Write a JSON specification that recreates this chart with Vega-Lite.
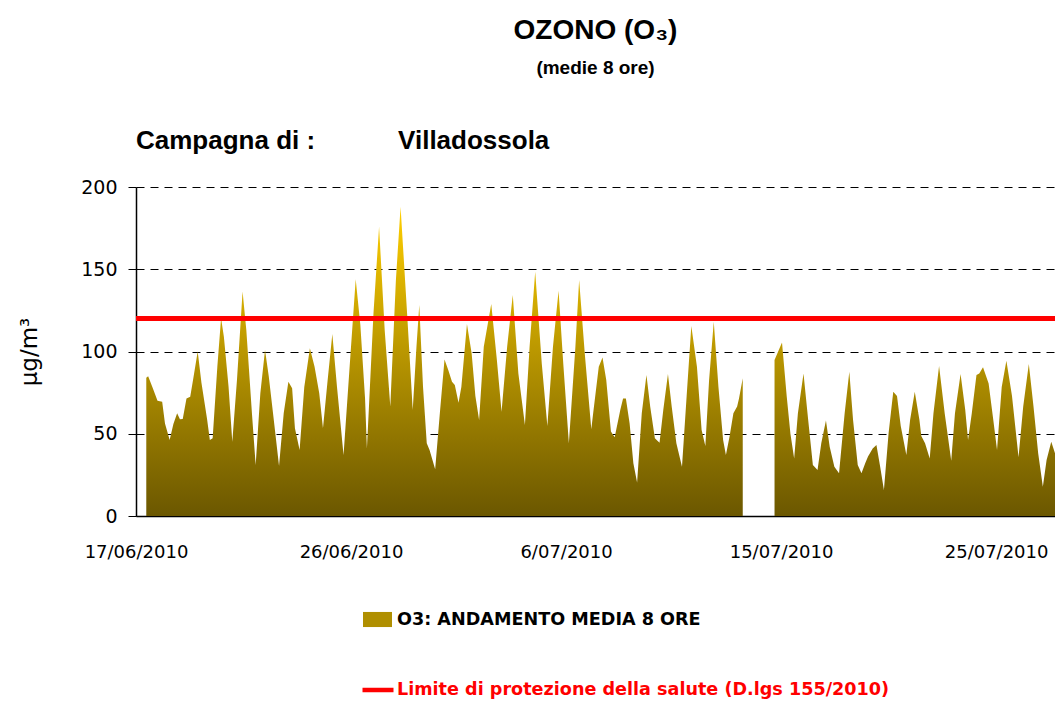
{
  "$schema": "https://vega.github.io/schema/vega-lite/v6.json",
  "width": 919,
  "height": 329,
  "autosize": {"type": "none"},
  "padding": {"left": 136, "top": 187, "right": 0, "bottom": 186},
  "background": "#ffffff",
  "view": {"stroke": null},
  "title": {
    "text": "OZONO (O₃)",
    "subtitle": "(medie 8 ore)",
    "anchor": "middle",
    "font": "Liberation Sans",
    "fontSize": 28,
    "fontWeight": "bold",
    "color": "#000000",
    "subtitleFont": "Liberation Sans",
    "subtitleFontSize": 19,
    "subtitleFontWeight": "bold",
    "subtitleColor": "#000000",
    "subtitlePadding": 14,
    "offset": 50
  },
  "datasets": {
    "ozono": [
      {"t": "2010-06-17T11:00", "v": 84},
      {"t": "2010-06-17T13:00", "v": 85},
      {"t": "2010-06-17T18:00", "v": 77.6},
      {"t": "2010-06-17T23:00", "v": 70},
      {"t": "2010-06-18T04:00", "v": 69.4},
      {"t": "2010-06-18T07:00", "v": 56.3},
      {"t": "2010-06-18T12:00", "v": 46.2},
      {"t": "2010-06-18T16:00", "v": 56},
      {"t": "2010-06-18T20:00", "v": 62.4},
      {"t": "2010-06-18T23:00", "v": 58.8},
      {"t": "2010-06-19T02:00", "v": 59},
      {"t": "2010-06-19T06:00", "v": 71.5},
      {"t": "2010-06-19T10:00", "v": 72.5},
      {"t": "2010-06-19T13:00", "v": 82.7},
      {"t": "2010-06-19T18:00", "v": 100},
      {"t": "2010-06-19T22:00", "v": 81},
      {"t": "2010-06-20T04:00", "v": 59},
      {"t": "2010-06-20T07:00", "v": 46.2},
      {"t": "2010-06-20T10:00", "v": 47.2},
      {"t": "2010-06-20T15:00", "v": 90.8},
      {"t": "2010-06-20T19:00", "v": 120.2},
      {"t": "2010-06-20T22:00", "v": 109},
      {"t": "2010-06-21T03:00", "v": 78.6},
      {"t": "2010-06-21T07:00", "v": 45.2},
      {"t": "2010-06-21T12:00", "v": 82.7},
      {"t": "2010-06-21T18:00", "v": 136.4},
      {"t": "2010-06-21T22:00", "v": 113},
      {"t": "2010-06-22T04:00", "v": 62.4},
      {"t": "2010-06-22T08:00", "v": 31},
      {"t": "2010-06-22T13:00", "v": 74.6},
      {"t": "2010-06-22T18:00", "v": 100.9},
      {"t": "2010-06-22T22:00", "v": 85},
      {"t": "2010-06-23T03:00", "v": 60.4},
      {"t": "2010-06-23T09:00", "v": 30.4},
      {"t": "2010-06-23T14:00", "v": 62.4},
      {"t": "2010-06-23T19:00", "v": 81.6},
      {"t": "2010-06-23T23:00", "v": 77.6},
      {"t": "2010-06-24T02:00", "v": 53.3},
      {"t": "2010-06-24T07:00", "v": 40.1},
      {"t": "2010-06-24T12:00", "v": 78.4},
      {"t": "2010-06-24T18:00", "v": 101.9},
      {"t": "2010-06-24T23:00", "v": 90.8},
      {"t": "2010-06-25T04:00", "v": 74.6},
      {"t": "2010-06-25T08:00", "v": 53.3},
      {"t": "2010-06-25T13:00", "v": 82.7},
      {"t": "2010-06-25T18:00", "v": 110.6},
      {"t": "2010-06-25T23:00", "v": 78.4},
      {"t": "2010-06-26T06:00", "v": 37.1},
      {"t": "2010-06-26T13:00", "v": 94.8},
      {"t": "2010-06-26T19:00", "v": 143.9},
      {"t": "2010-06-27T00:00", "v": 116},
      {"t": "2010-06-27T05:00", "v": 71.5},
      {"t": "2010-06-27T07:00", "v": 41.1},
      {"t": "2010-06-27T14:00", "v": 123},
      {"t": "2010-06-27T20:00", "v": 175.9},
      {"t": "2010-06-28T02:00", "v": 113},
      {"t": "2010-06-28T08:00", "v": 66.5},
      {"t": "2010-06-28T14:00", "v": 143.5},
      {"t": "2010-06-28T19:00", "v": 188},
      {"t": "2010-06-29T02:00", "v": 123},
      {"t": "2010-06-29T08:00", "v": 64.4},
      {"t": "2010-06-29T12:00", "v": 102.9},
      {"t": "2010-06-29T15:00", "v": 128.3},
      {"t": "2010-06-29T19:00", "v": 78.6},
      {"t": "2010-06-29T23:00", "v": 44.2},
      {"t": "2010-06-30T02:00", "v": 40.1},
      {"t": "2010-06-30T08:00", "v": 28.4},
      {"t": "2010-06-30T13:00", "v": 62.4},
      {"t": "2010-06-30T18:00", "v": 95.2},
      {"t": "2010-06-30T22:00", "v": 88.8},
      {"t": "2010-07-01T02:00", "v": 81.6},
      {"t": "2010-07-01T05:00", "v": 79.6},
      {"t": "2010-07-01T09:00", "v": 68.9},
      {"t": "2010-07-01T12:00", "v": 78.4},
      {"t": "2010-07-01T18:00", "v": 116.7},
      {"t": "2010-07-01T23:00", "v": 98.9},
      {"t": "2010-07-02T03:00", "v": 72.9},
      {"t": "2010-07-02T07:00", "v": 58.4},
      {"t": "2010-07-02T12:00", "v": 102.9},
      {"t": "2010-07-02T20:00", "v": 128.9},
      {"t": "2010-07-03T02:00", "v": 94.8},
      {"t": "2010-07-03T07:00", "v": 63.4},
      {"t": "2010-07-03T13:00", "v": 102.9},
      {"t": "2010-07-03T19:00", "v": 134.3},
      {"t": "2010-07-04T01:00", "v": 86.7},
      {"t": "2010-07-04T08:00", "v": 55.3},
      {"t": "2010-07-04T13:00", "v": 102.9},
      {"t": "2010-07-04T19:00", "v": 148.5},
      {"t": "2010-07-05T02:00", "v": 92.8},
      {"t": "2010-07-05T08:00", "v": 54.7},
      {"t": "2010-07-05T14:00", "v": 102.9},
      {"t": "2010-07-05T20:00", "v": 137},
      {"t": "2010-07-06T01:00", "v": 92.8},
      {"t": "2010-07-06T07:00", "v": 44.2},
      {"t": "2010-07-06T14:00", "v": 102.9},
      {"t": "2010-07-06T18:00", "v": 143.5},
      {"t": "2010-07-07T00:00", "v": 98.9},
      {"t": "2010-07-07T07:00", "v": 52.7},
      {"t": "2010-07-07T09:00", "v": 62.4},
      {"t": "2010-07-07T15:00", "v": 90.8},
      {"t": "2010-07-07T19:00", "v": 96.4},
      {"t": "2010-07-07T23:00", "v": 82.7},
      {"t": "2010-07-08T04:00", "v": 51.3},
      {"t": "2010-07-08T08:00", "v": 47.8},
      {"t": "2010-07-08T14:00", "v": 64.4},
      {"t": "2010-07-08T17:00", "v": 71.5},
      {"t": "2010-07-08T20:00", "v": 71.5},
      {"t": "2010-07-09T00:00", "v": 56.3},
      {"t": "2010-07-09T04:00", "v": 32},
      {"t": "2010-07-09T08:00", "v": 20.3},
      {"t": "2010-07-09T13:00", "v": 62.4},
      {"t": "2010-07-09T18:00", "v": 85.7},
      {"t": "2010-07-09T22:00", "v": 66.5},
      {"t": "2010-07-10T03:00", "v": 47.2},
      {"t": "2010-07-10T08:00", "v": 44.6},
      {"t": "2010-07-10T12:00", "v": 64.4},
      {"t": "2010-07-10T17:00", "v": 86.3},
      {"t": "2010-07-10T21:00", "v": 66.5},
      {"t": "2010-07-11T02:00", "v": 44.2},
      {"t": "2010-07-11T08:00", "v": 30},
      {"t": "2010-07-11T13:00", "v": 72.9},
      {"t": "2010-07-11T18:00", "v": 115.5},
      {"t": "2010-07-12T00:00", "v": 90.8},
      {"t": "2010-07-12T05:00", "v": 52.3},
      {"t": "2010-07-12T09:00", "v": 42.6},
      {"t": "2010-07-12T13:00", "v": 82.7},
      {"t": "2010-07-12T18:00", "v": 118.1},
      {"t": "2010-07-12T23:00", "v": 78.4},
      {"t": "2010-07-13T04:00", "v": 46.2},
      {"t": "2010-07-13T07:00", "v": 37.1},
      {"t": "2010-07-13T11:00", "v": 48.6},
      {"t": "2010-07-13T15:00", "v": 62.4},
      {"t": "2010-07-13T19:00", "v": 66.5},
      {"t": "2010-07-13T21:00", "v": 71.5},
      {"t": "2010-07-14T01:00", "v": 83.7},
      {"t": "2010-07-14T12:00", "v": null},
      {"t": "2010-07-15T11:00", "v": 94.8},
      {"t": "2010-07-15T19:00", "v": 105.4},
      {"t": "2010-07-16T00:00", "v": 72.9},
      {"t": "2010-07-16T04:00", "v": 50},
      {"t": "2010-07-16T08:00", "v": 35},
      {"t": "2010-07-16T12:00", "v": 62.4},
      {"t": "2010-07-16T18:00", "v": 86.7},
      {"t": "2010-07-16T23:00", "v": 58.4},
      {"t": "2010-07-17T04:00", "v": 31},
      {"t": "2010-07-17T09:00", "v": 28},
      {"t": "2010-07-17T13:00", "v": 44.2},
      {"t": "2010-07-17T18:00", "v": 58},
      {"t": "2010-07-17T22:00", "v": 42.1},
      {"t": "2010-07-18T03:00", "v": 30},
      {"t": "2010-07-18T08:00", "v": 26},
      {"t": "2010-07-18T14:00", "v": 62.4},
      {"t": "2010-07-18T19:00", "v": 87.7},
      {"t": "2010-07-18T23:00", "v": 58.4},
      {"t": "2010-07-19T04:00", "v": 31},
      {"t": "2010-07-19T08:00", "v": 26},
      {"t": "2010-07-19T12:00", "v": 32},
      {"t": "2010-07-19T15:00", "v": 36.1},
      {"t": "2010-07-19T20:00", "v": 41.1},
      {"t": "2010-07-20T00:00", "v": 43.2},
      {"t": "2010-07-20T04:00", "v": 30},
      {"t": "2010-07-20T08:00", "v": 15.8},
      {"t": "2010-07-20T13:00", "v": 50.3},
      {"t": "2010-07-20T18:00", "v": 75.6},
      {"t": "2010-07-20T22:00", "v": 72.9},
      {"t": "2010-07-21T02:00", "v": 54.7},
      {"t": "2010-07-21T08:00", "v": 37.1},
      {"t": "2010-07-21T12:00", "v": 58.4},
      {"t": "2010-07-21T17:00", "v": 75.6},
      {"t": "2010-07-21T22:00", "v": 58.4},
      {"t": "2010-07-22T00:00", "v": 48.6},
      {"t": "2010-07-22T04:00", "v": 44.2},
      {"t": "2010-07-22T09:00", "v": 35},
      {"t": "2010-07-22T13:00", "v": 62.4},
      {"t": "2010-07-22T19:00", "v": 91.2},
      {"t": "2010-07-23T01:00", "v": 62.4},
      {"t": "2010-07-23T08:00", "v": 33.6},
      {"t": "2010-07-23T12:00", "v": 62.4},
      {"t": "2010-07-23T18:00", "v": 86.3},
      {"t": "2010-07-23T23:00", "v": 64.4},
      {"t": "2010-07-24T02:00", "v": 46.2},
      {"t": "2010-07-24T06:00", "v": 62.4},
      {"t": "2010-07-24T11:00", "v": 85.7},
      {"t": "2010-07-24T14:00", "v": 86.7},
      {"t": "2010-07-24T18:00", "v": 90.4},
      {"t": "2010-07-25T00:00", "v": 80.6},
      {"t": "2010-07-25T05:00", "v": 58.4},
      {"t": "2010-07-25T09:00", "v": 40.1},
      {"t": "2010-07-25T14:00", "v": 78.4},
      {"t": "2010-07-25T19:00", "v": 94.4},
      {"t": "2010-07-26T01:00", "v": 72.9},
      {"t": "2010-07-26T08:00", "v": 35.7},
      {"t": "2010-07-26T13:00", "v": 66.5},
      {"t": "2010-07-26T19:00", "v": 92.4},
      {"t": "2010-07-27T00:00", "v": 66.5},
      {"t": "2010-07-27T05:00", "v": 38.1},
      {"t": "2010-07-27T10:00", "v": 17.8},
      {"t": "2010-07-27T14:00", "v": 34},
      {"t": "2010-07-27T19:00", "v": 45.2},
      {"t": "2010-07-27T23:00", "v": 38.1}
    ],
    "limite": [{"soglia": 120}],
    "serie": [{"nome": "O3: ANDAMENTO MEDIA 8 ORE"}],
    "campagna": [{"testo": "Campagna di :"}],
    "stazione": [{"testo": "Villadossola"}]
  },
  "layer": [
    {
      "data": {"name": "ozono"},
      "mark": {
        "type": "area",
        "interpolate": "linear",
        "invalid": "break-paths-filter-domains",
        "color": {
          "gradient": "linear",
          "x1": 0, "y1": 1, "x2": 0, "y2": 0,
          "stops": [
            {"offset": 0, "color": "#6b5700"},
            {"offset": 1, "color": "#ffcf00"}
          ]
        }
      },
      "encoding": {
        "x": {
          "field": "t",
          "type": "temporal",
          "scale": {
            "domain": [
              {"year": 2010, "month": 6, "date": 17, "hours": 0},
              {"year": 2010, "month": 7, "date": 27, "hours": 23}
            ]
          },
          "axis": {
            "title": null,
            "values": [
              {"year": 2010, "month": 6, "date": 17, "hours": 0},
              {"year": 2010, "month": 6, "date": 26, "hours": 14},
              {"year": 2010, "month": 7, "date": 6, "hours": 4},
              {"year": 2010, "month": 7, "date": 15, "hours": 18},
              {"year": 2010, "month": 7, "date": 25, "hours": 8}
            ],
            "format": "%-d/%m/%Y",
            "grid": false,
            "ticks": false,
            "tickSize": 0,
            "domainColor": "#000000",
            "domainWidth": 1.5,
            "labelFont": "DejaVu Sans",
            "labelFontSize": 18,
            "labelColor": "#000000",
            "labelPadding": 27,
            "labelFlush": false,
            "labelOverlap": false,
            "labelBound": false
          }
        },
        "y": {
          "field": "v",
          "type": "quantitative",
          "scale": {"domain": [0, 200], "nice": false},
          "axis": {
            "values": [0, 50, 100, 150, 200],
            "title": "µg/m³",
            "titleFont": "DejaVu Sans",
            "titleFontSize": 23,
            "titleFontWeight": "normal",
            "titleColor": "#000000",
            "titlePadding": 39,
            "grid": true,
            "gridColor": "#000000",
            "gridDash": [8, 6],
            "gridWidth": 1,
            "domainColor": "#000000",
            "domainWidth": 1.5,
            "tickColor": "#000000",
            "tickSize": 8,
            "labelFont": "DejaVu Sans",
            "labelFontSize": 19,
            "labelColor": "#000000",
            "labelPadding": 11
          }
        }
      }
    },
    {
      "data": {"name": "serie"},
      "mark": {"type": "square", "size": 0, "opacity": 1},
      "encoding": {
        "fill": {
          "field": "nome",
          "type": "nominal",
          "scale": {"range": ["#b08f00"]},
          "legend": {
            "orient": "none",
            "legendX": 227,
            "legendY": 418,
            "title": null,
            "padding": 0,
            "symbolType": "M-1,-0.52H1V0.52H-1Z",
            "symbolSize": 841,
            "symbolStrokeWidth": 0,
            "symbolOpacity": 1,
            "labelFont": "DejaVu Sans",
            "labelFontWeight": "bold",
            "labelFontSize": 17.6,
            "labelColor": "#000000",
            "labelOffset": 5,
            "labelLimit": 0
          }
        }
      }
    },
    {
      "data": {"name": "limite"},
      "mark": {"type": "rule", "strokeWidth": 5},
      "encoding": {
        "y": {"field": "soglia", "type": "quantitative"},
        "stroke": {
          "datum": "Limite di protezione della salute (D.lgs 155/2010)",
          "type": "nominal",
          "scale": {"range": ["#ff0000"]},
          "legend": {
            "orient": "none",
            "legendX": 224,
            "legendY": 485,
            "title": null,
            "padding": 0,
            "symbolType": "stroke",
            "symbolSize": 961,
            "symbolStrokeWidth": 4.5,
            "labelFont": "DejaVu Sans",
            "labelFontWeight": "bold",
            "labelFontSize": 17.6,
            "labelColor": "#ff0000",
            "labelOffset": 1,
            "labelLimit": 0
          }
        }
      }
    },
    {
      "data": {"name": "campagna"},
      "mark": {"type": "text", "align": "left", "baseline": "middle", "font": "Liberation Sans", "fontSize": 26, "fontWeight": "bold", "color": "#000000"},
      "encoding": {
        "x": {"datum": {"year": 2010, "month": 6, "date": 17, "hours": 0}, "type": "temporal"},
        "y": {"datum": 228, "type": "quantitative"},
        "text": {"field": "testo"}
      }
    },
    {
      "data": {"name": "stazione"},
      "mark": {"type": "text", "align": "left", "baseline": "middle", "font": "Liberation Sans", "fontSize": 26, "fontWeight": "bold", "color": "#000000"},
      "encoding": {
        "x": {"datum": {"year": 2010, "month": 6, "date": 28, "hours": 16, "minutes": 20}, "type": "temporal"},
        "y": {"datum": 228, "type": "quantitative"},
        "text": {"field": "testo"}
      }
    }
  ]
}
